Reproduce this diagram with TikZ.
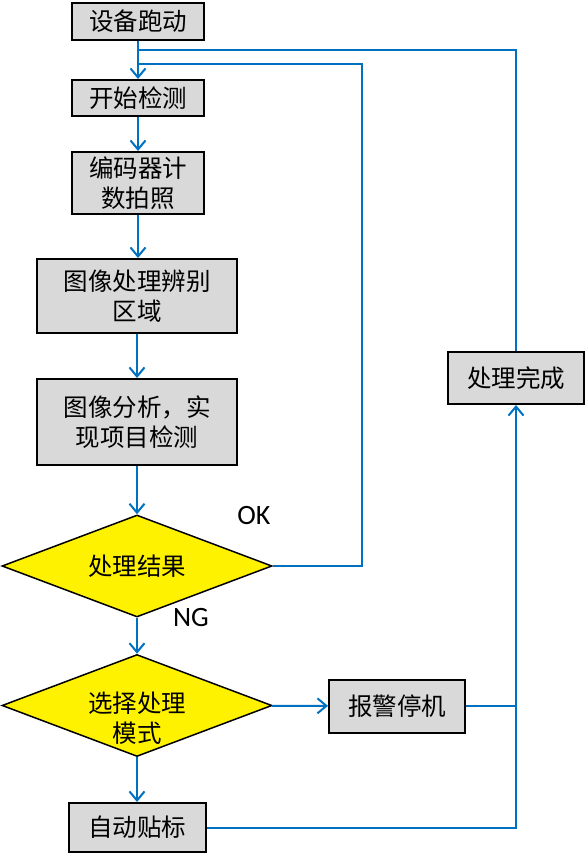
\documentclass[tikz,border=0pt]{standalone}
\usepackage{fontspec}
\setmainfont{Carlito}
\newfontfamily\cjk{Noto Sans CJK SC}
\usetikzlibrary{shapes.geometric,arrows.meta}
\definecolor{flowblue}{RGB}{0,112,192}
\definecolor{boxgray}{RGB}{217,217,217}
\tikzstyle{stepbox} = [draw,line width=2pt,fill=boxgray,inner sep=0pt,align=center,font=\cjk\fontsize{24.5}{30}\selectfont]
\tikzstyle{decision} = [draw,line width=1.5pt,fill=yellow,diamond,inner sep=0pt,shape aspect=2.65,minimum width=270pt,minimum height=102pt]
\tikzstyle{txt} = [inner sep=0pt,align=center,font=\cjk\fontsize{24.5}{30}\selectfont]
\tikzstyle{line} = [draw,flowblue,line width=2pt]
\tikzstyle{flow} = [line,-{Straight Barb[length=9pt,width=15pt,line width=2pt]}]

\begin{document}
\begin{tikzpicture}[x=1pt,y=-1pt]
\useasboundingbox (0,0) rectangle (585,859);

\node[stepbox,minimum width=132pt,minimum height=37pt] (run) at (138,21.5) {设备跑动};
\node[stepbox,minimum width=132pt,minimum height=36pt] (start) at (138,98) {开始检测};
\node[stepbox,minimum width=132pt,minimum height=62pt] (shoot) at (138,183) {编码器计\\数拍照};
\node[stepbox,minimum width=200pt,minimum height=74pt] (region) at (137,296) {图像处理辨别\\区域};
\node[stepbox,minimum width=200pt,minimum height=86pt] (analyse) at (137,422) {图像分析，实\\现项目检测};
\node[decision] (result) at (137,566) {};
\node[txt] (resulttxt) at (137,566) {处理结果};
\node[decision] (mode) at (137,705.5) {};
\node[txt] (modetxt) at (137,718) {选择处理\\模式};
\node[stepbox,minimum width=136pt,minimum height=53pt] (alarm) at (397,706) {报警停机};
\node[stepbox,minimum width=137pt,minimum height=49pt] (label) at (137,827.5) {自动贴标};
\node[stepbox,minimum width=136pt,minimum height=52pt] (done) at (516,378) {处理完成};

\node[font=\fontsize{28}{30}\selectfont] (ok) at (254,516) {OK};
\node[font=\fontsize{28}{30}\selectfont] (ng) at (191,618) {NG};

\coordinate (back) at (138,50);
\coordinate (loop) at (138,64);
\coordinate (join) at (516,706);

% main line
\draw[flow] (run) -- (start);
\draw[flow] (start) -- (shoot);
\draw[flow] (shoot.south) -- (shoot.south |- region.north);
\draw[flow] (region) -- (analyse);
\draw[flow] (analyse) -- (result);
\draw[flow] (result) -- (mode);
\draw[flow] (mode) -- (label);
\draw[flow] (mode) -- (alarm);

% loops back
\draw[line] (result.east) -| (362,64) -- (loop);
\draw[line] (done.north) |- (back);
\draw[line] (alarm.east) -- (join);
\draw[flow] (label.east) -| (done.south);
\end{tikzpicture}
\end{document}
